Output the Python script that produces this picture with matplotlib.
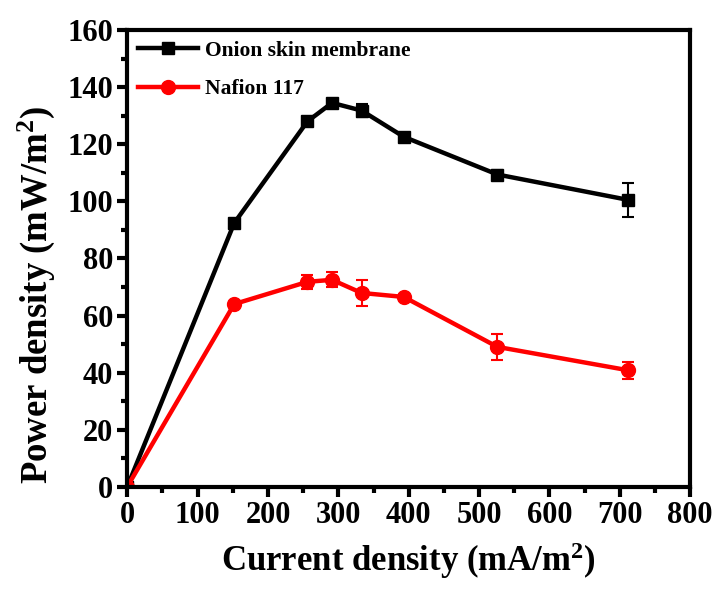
import matplotlib
matplotlib.use("Agg")
import matplotlib.pyplot as plt
from matplotlib.ticker import MultipleLocator

plt.rcParams["font.family"] = ["Liberation Serif", "DejaVu Serif"]
plt.rcParams["font.weight"] = "bold"
plt.rcParams["mathtext.fontset"] = "custom"
plt.rcParams["mathtext.rm"] = "Liberation Serif:bold"
plt.rcParams["mathtext.it"] = "Liberation Serif:bold"
plt.rcParams["mathtext.bf"] = "Liberation Serif:bold"

# 数据
current = [0, 152, 256, 291, 333, 393, 526, 712]
onion = [0, 92.4, 128, 134.5, 131.8, 122.6, 109.4, 100.5]
onion_err = [0, 0.8, 1.0, 1.2, 2.2, 1.0, 1.5, 6.0]
nafion = [0, 64, 71.8, 72.5, 67.9, 66.5, 49, 40.8]
nafion_err = [0, 0.8, 2.5, 2.6, 4.7, 1.0, 4.5, 3.0]

fig = plt.figure(figsize=(7.19, 5.90), dpi=100)
ax = fig.add_axes([0.177, 0.175, 0.783, 0.774])

ax.plot(current, onion, color="black", marker="s", markersize=9, linewidth=3.2,
        label="Onion skin membrane")
ax.errorbar(current, onion, yerr=onion_err, fmt="none", ecolor="black",
            elinewidth=1.5, capsize=4, capthick=1.5)
ax.plot(current, nafion, color="#ff0000", marker="o", markersize=10, linewidth=3.2,
        label="Nafion 117")
ax.errorbar(current, nafion, yerr=nafion_err, fmt="none", ecolor="#ff0000",
            elinewidth=1.5, capsize=4, capthick=1.5)

ax.set_xlim(0, 800)
ax.set_ylim(0, 160)
ax.xaxis.set_major_locator(MultipleLocator(100))
ax.xaxis.set_minor_locator(MultipleLocator(50))
ax.yaxis.set_major_locator(MultipleLocator(20))
ax.yaxis.set_minor_locator(MultipleLocator(10))
ax.tick_params(which="major", direction="out", length=7, width=3, labelsize=22, pad=3)
ax.tick_params(which="minor", direction="out", length=4, width=3)
for s in ax.spines.values():
    s.set_linewidth(3)

ax.set_xlabel("Current density (mA/m$^2$)", fontsize=25, fontweight="bold", labelpad=8)
ax.set_ylabel("Power density (mW/m$^2$)", fontsize=26.5, fontweight="bold")
ax.yaxis.set_label_coords(-0.125, 0.42)

ax.legend(loc="upper left", frameon=False, fontsize=15.5, handlelength=2.8,
          borderaxespad=0.1, handletextpad=0.3, labelspacing=0.85)

plt.savefig("out.png", dpi=100)
plt.close()
